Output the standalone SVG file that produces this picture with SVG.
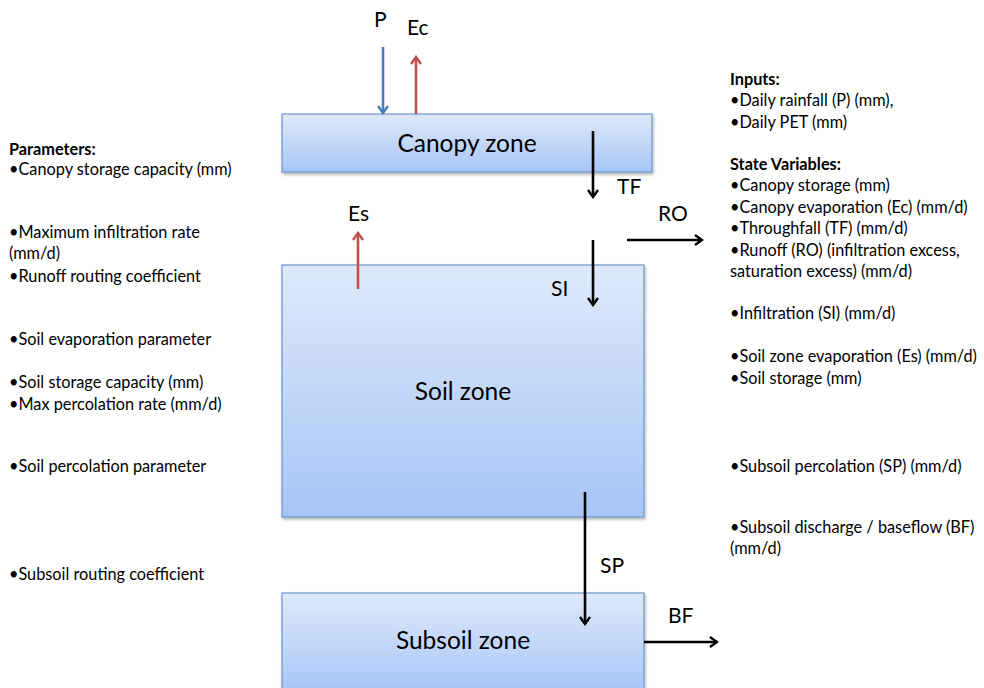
<svg xmlns="http://www.w3.org/2000/svg" width="984" height="688" viewBox="0 0 984 688">
  <style>
    .zone { stroke: #6f97cf; stroke-width: 1.2; }
    .zlabel { font-family: Lato, "Open Sans", "Liberation Sans", sans-serif; font-size: 24.5px; fill: #000; text-anchor: middle; }
    .flab { font-family: Lato, "Open Sans", "Liberation Sans", sans-serif; font-size: 21px; fill: #000; }
    .note { font-family: Lato, "Open Sans", "Liberation Sans", sans-serif; font-size: 16.3px; fill: #000; }
    .head { font-weight: bold; }
    .blk { stroke: #000; stroke-width: 2.6; fill: none; }
    .blu { stroke: #4a7ebb; stroke-width: 2.6; fill: none; }
    .red { stroke: #c0504d; stroke-width: 2.6; fill: none; }
  </style>
  <defs>
    <linearGradient id="boxfill" x1="0" y1="0" x2="0" y2="1">
      <stop offset="0" stop-color="#dfe9fb"/>
      <stop offset="1" stop-color="#a6c5f6"/>
    </linearGradient>
    <filter id="shadow" x="-5%" y="-5%" width="110%" height="120%">
      <feDropShadow dx="1" dy="2" stdDeviation="1.5" flood-color="#000" flood-opacity="0.3"/>
    </filter>
    <marker id="ahBlk" viewBox="0 0 12 12" refX="10" refY="6" markerWidth="12" markerHeight="12" markerUnits="userSpaceOnUse" orient="auto">
      <path d="M3,1 L10,6 L3,11" fill="none" stroke="#000" stroke-width="2.4"/>
    </marker>
    <marker id="ahBlu" viewBox="0 0 12 12" refX="10" refY="6" markerWidth="12" markerHeight="12" markerUnits="userSpaceOnUse" orient="auto">
      <path d="M3,1 L10,6 L3,11" fill="none" stroke="#4a7ebb" stroke-width="2.4"/>
    </marker>
    <marker id="ahRed" viewBox="0 0 12 12" refX="10" refY="6" markerWidth="12" markerHeight="12" markerUnits="userSpaceOnUse" orient="auto">
      <path d="M3,1 L10,6 L3,11" fill="none" stroke="#c0504d" stroke-width="2.4"/>
    </marker>
  </defs>

  <rect width="984" height="688" fill="#fff"/>

  <!-- Storage zones -->
  <g id="canopy-zone">
    <rect class="zone" x="282" y="114" width="370" height="58" fill="url(#boxfill)" filter="url(#shadow)"/>
    <text class="zlabel" x="467" y="152">Canopy zone</text>
  </g>
  <g id="soil-zone">
    <rect class="zone" x="282" y="265" width="362" height="252" fill="url(#boxfill)" filter="url(#shadow)"/>
    <text class="zlabel" x="463" y="400">Soil zone</text>
  </g>
  <g id="subsoil-zone">
    <rect class="zone" x="282" y="593" width="362" height="100" fill="url(#boxfill)" filter="url(#shadow)"/>
    <text class="zlabel" x="463" y="649">Subsoil zone</text>
  </g>

  <!-- Fluxes between zones -->
  <g id="connectors">
    <line class="blu" x1="383" y1="47" x2="383" y2="113" marker-end="url(#ahBlu)"/>
    <line class="red" x1="416" y1="114" x2="416" y2="57" marker-end="url(#ahRed)"/>
    <line class="blk" x1="593" y1="131" x2="593" y2="197" marker-end="url(#ahBlk)"/>
    <line class="red" x1="358" y1="289" x2="358" y2="233" marker-end="url(#ahRed)"/>
    <line class="blk" x1="593" y1="240" x2="593" y2="305" marker-end="url(#ahBlk)"/>
    <line class="blk" x1="627" y1="240" x2="702" y2="240" marker-end="url(#ahBlk)"/>
    <line class="blk" x1="585" y1="492" x2="585" y2="624" marker-end="url(#ahBlk)"/>
    <line class="blk" x1="644" y1="642" x2="717" y2="642" marker-end="url(#ahBlk)"/>
  </g>

  <!-- Flux labels -->
  <g id="flux-labels">
    <text class="flab" x="374" y="27">P</text>
    <text class="flab" x="407" y="35">Ec</text>
    <text class="flab" x="617" y="194">TF</text>
    <text class="flab" x="348" y="221">Es</text>
    <text class="flab" x="658" y="221">RO</text>
    <text class="flab" x="551" y="296">SI</text>
    <text class="flab" x="600" y="573">SP</text>
    <text class="flab" x="668" y="623">BF</text>
  </g>

  <!-- Parameter list -->
  <g id="parameters" class="note">
    <text x="9" y="155" class="head">Parameters:</text>
    <text x="9" y="175">•Canopy storage capacity (mm)</text>
    <text x="9" y="238">•Maximum infiltration rate</text>
    <text x="9" y="259">(mm/d)</text>
    <text x="9" y="282">•Runoff routing coefficient</text>
    <text x="9" y="345">•Soil evaporation parameter</text>
    <text x="9" y="388">•Soil storage capacity (mm)</text>
    <text x="9" y="410">•Max percolation rate (mm/d)</text>
    <text x="9" y="472">•Soil percolation parameter</text>
    <text x="9" y="580">•Subsoil routing coefficient</text>
  </g>

  <!-- Inputs and state variables -->
  <g id="variables" class="note">
    <text x="730" y="85" class="head">Inputs:</text>
    <text x="730" y="106">•Daily rainfall (P) (mm),</text>
    <text x="730" y="128">•Daily PET (mm)</text>
    <text x="730" y="170" class="head">State Variables:</text>
    <text x="730" y="191">•Canopy storage (mm)</text>
    <text x="730" y="213">•Canopy evaporation (Ec) (mm/d)</text>
    <text x="730" y="234">•Throughfall (TF) (mm/d)</text>
    <text x="730" y="256">•Runoff (RO) (infiltration excess,</text>
    <text x="730" y="277">saturation excess) (mm/d)</text>
    <text x="730" y="319">•Infiltration (SI) (mm/d)</text>
    <text x="730" y="362">•Soil zone evaporation (Es) (mm/d)</text>
    <text x="730" y="384">•Soil storage (mm)</text>
    <text x="730" y="472">•Subsoil percolation (SP) (mm/d)</text>
    <text x="730" y="533">•Subsoil discharge / baseflow (BF)</text>
    <text x="730" y="554">(mm/d)</text>
  </g>
</svg>
